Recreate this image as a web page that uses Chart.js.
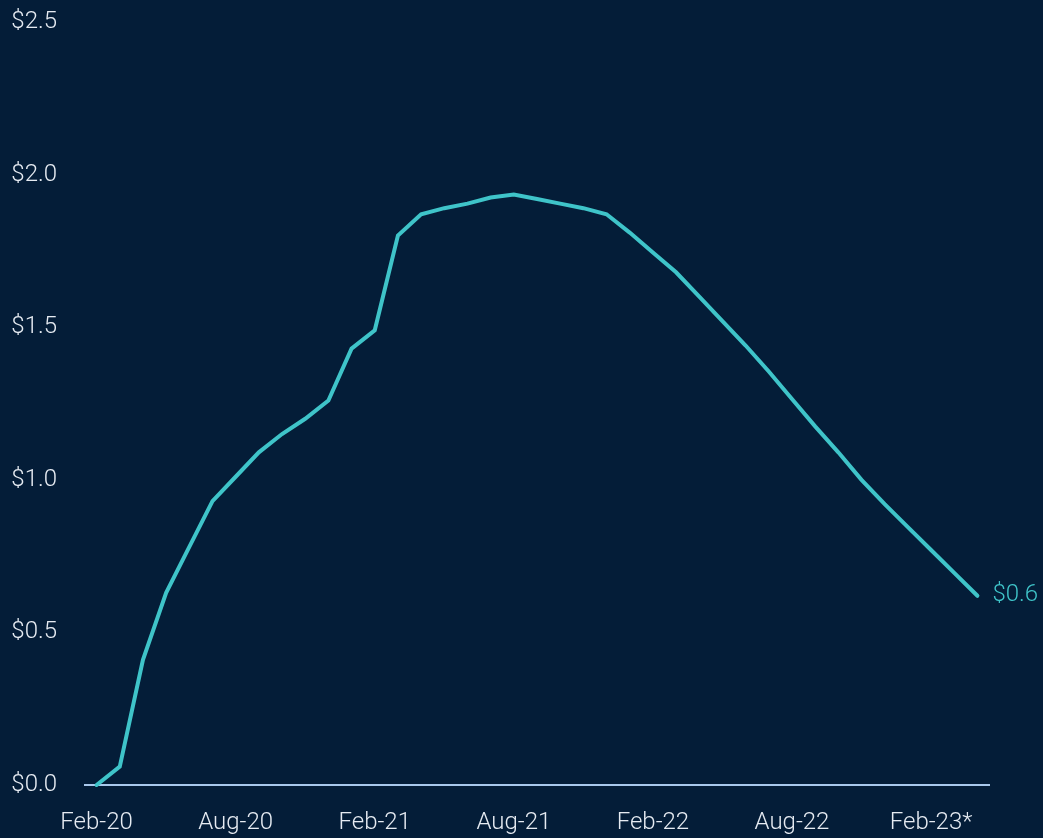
<!DOCTYPE html>
<html>
<head>
<meta charset="utf-8">
<script src="https://cdn.jsdelivr.net/npm/chart.js@4"></script>
<style>
  html, body { margin: 0; padding: 0; background: #041d38; }
  #wrap { width: 1043px; height: 838px; }
</style>
</head>
<body>
<div id="wrap"><canvas id="lineChart" width="1043" height="838"></canvas></div>
<script>
// monthly points, Feb-20 .. Apr-23
const months = [
    'Feb-20', 'Mar-20', 'Apr-20', 'May-20', 'Jun-20', 'Jul-20', 'Aug-20', 'Sep-20', 'Oct-20', 'Nov-20', 'Dec-20',
    'Jan-21', 'Feb-21', 'Mar-21', 'Apr-21', 'May-21', 'Jun-21', 'Jul-21', 'Aug-21', 'Sep-21', 'Oct-21', 'Nov-21', 'Dec-21',
    'Jan-22', 'Feb-22', 'Mar-22', 'Apr-22', 'May-22', 'Jun-22', 'Jul-22', 'Aug-22', 'Sep-22', 'Oct-22', 'Nov-22', 'Dec-22',
    'Jan-23', 'Feb-23', 'Mar-23', 'Apr-23'
];
const values = [
    0.00, 0.06, 0.41, 0.63, 0.78, 0.93, 1.01, 1.09, 1.15, 1.20, 1.26,
    1.43, 1.49, 1.80, 1.87, 1.89, 1.905, 1.925, 1.935, 1.92, 1.905, 1.89, 1.87,
    1.81, 1.745, 1.68, 1.60, 1.52, 1.44, 1.355, 1.265, 1.175, 1.09, 1.00, 0.92,
    0.845, 0.77, 0.695, 0.62
];
const xTickLabels = ['Feb-20', 'Aug-20', 'Feb-21', 'Aug-21', 'Feb-22', 'Aug-22', 'Feb-23*'];
const endLabel = '$0.6';

const textColor = '#e6ebf2';
const lineColor = '#3fc4c9';
const font = { family: 'Roboto', weight: 300, size: 24 };

const endLabelPlugin = {
    id: 'endLabel',
    afterDatasetsDraw(chart) {
        const meta = chart.getDatasetMeta(0);
        const last = meta.data[meta.data.length - 1];
        const ctx = chart.ctx;
        ctx.save();
        ctx.font = '300 24px Roboto';
        ctx.fillStyle = lineColor;
        ctx.textBaseline = 'middle';
        ctx.textAlign = 'left';
        ctx.fillText(endLabel, last.x + 15, last.y - 1);
        ctx.restore();
    }
};

const ctx = document.getElementById('lineChart').getContext('2d');
const chart = new Chart(ctx, {
    type: 'line',
    data: {
        labels: months,
        datasets: [{
            data: values,
            borderColor: lineColor,
            borderWidth: 4,
            pointRadius: 0,
            tension: 0,
            borderCapStyle: 'round',
            clip: false
        }]
    },
    options: {
        responsive: false,
        animation: false,
        layout: { padding: { top: 22, right: 54, bottom: 0, left: 0 } },
        plugins: {
            legend: { display: false },
            tooltip: { enabled: false }
        },
        scales: {
            x: {
                offset: true,
                grid: { display: false, drawTicks: false },
                border: { display: true, color: '#a9c8ec', width: 2 },
                ticks: {
                    autoSkip: false,
                    maxRotation: 0,
                    padding: 24,
                    color: textColor,
                    font: font,
                    callback: (v, i) => (i % 6 === 0 ? xTickLabels[i / 6] : '')
                },
                afterFit: (scale) => { scale.height = 53; scale.paddingTop = 0; scale.paddingBottom = 0; }
            },
            y: {
                min: 0,
                max: 2.5,
                grid: { display: false, drawTicks: false },
                border: { display: false },
                ticks: {
                    stepSize: 0.5,
                    padding: 28,
                    color: textColor,
                    font: font,
                    callback: (v) => '$' + v.toFixed(1)
                },
                afterFit: (scale) => { scale.width = 85; scale.paddingTop = 0; scale.paddingBottom = 0; }
            }
        }
    },
    plugins: [endLabelPlugin]
});
</script>
</body>
</html>
